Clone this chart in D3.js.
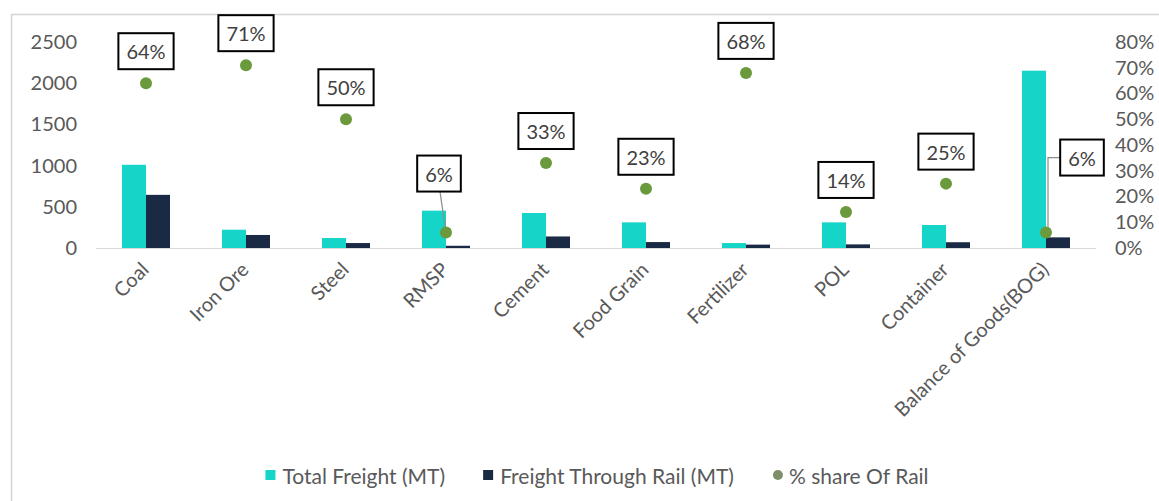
<!DOCTYPE html>
<html>
<head>
<meta charset="utf-8">
<script src="https://cdn.jsdelivr.net/npm/d3@7/dist/d3.min.js"></script>
<style>
body { margin: 0; background: #fff; }
text { font-family: Lato, "Open Sans", sans-serif; }
</style>
</head>
<body>
<div id="chart"></div>
<script>
// data
var categories = ["Coal", "Iron Ore", "Steel", "RMSP", "Cement", "Food Grain", "Fertilizer", "POL", "Container", "Balance of Goods(BOG)"]
var totalFreight = [1010, 222, 121, 453, 425, 311, 60, 311, 279, 2152]
var railFreight = [645, 158, 60, 27, 140, 72, 41, 44, 70, 129]
var railShare = [0.64, 0.71, 0.50, 0.06, 0.33, 0.23, 0.68, 0.14, 0.25, 0.06]
var leftTicks = [0, 500, 1000, 1500, 2000, 2500]
var rightTicks = [0, 0.1, 0.2, 0.3, 0.4, 0.5, 0.6, 0.7, 0.8]
var seriesNames = ["Total Freight (MT)", "Freight Through Rail (MT)", "% share Of Rail"]

var width = 1159, height = 501
var teal = "#15d5c8", navy = "#1b2a44", green = "#6a9a3c"
var textGrey = "#595959"

// labels Excel had dragged away from their points
var movedLabels = { "RMSP": [-7, -59], "Balance of Goods(BOG)": [36, -75] }

var svg = d3.select("#chart").append("svg")
	.attr("width", width).attr("height", height)

// frame
svg.append("rect")
	.attr("x", 11.5).attr("y", 14.5)
	.attr("width", width).attr("height", height)
	.attr("fill", "none").attr("stroke", "#d4d4d4").attr("stroke-width", 1.5)

var x = d3.scaleBand().domain(categories).range([96, 1096]).paddingInner(0.52).paddingOuter(0.26)
var yL = d3.scaleLinear().domain([0, 2500]).range([248, 42])
var yR = d3.scaleLinear().domain([0, 0.8]).range([248, 42])
var cx = function(c){ return x(c) + x.bandwidth() / 2 }

// left axis
var left = svg.append("g").attr("transform", "translate(77,0)")
	.call(d3.axisLeft(yL).tickValues(leftTicks).tickFormat(d3.format("d")).tickSize(0).tickPadding(0))
left.select(".domain").remove()
left.selectAll("text").attr("fill", textGrey).attr("font-size", 20)

// right axis
var right = svg.append("g").attr("transform", "translate(1115,0)")
	.call(d3.axisRight(yR).tickValues(rightTicks).tickFormat(d3.format(".0%")).tickSize(0).tickPadding(0))
right.select(".domain").remove()
right.selectAll("text").attr("fill", textGrey).attr("font-size", 20)

// baseline
svg.append("line")
	.attr("x1", 96).attr("x2", 1096)
	.attr("y1", yL(0) + 0.5).attr("y2", yL(0) + 0.5)
	.attr("stroke", "#d9d9d9").attr("stroke-width", 1)

// bars
var sub = d3.scaleBand().domain([0, 1]).range([0, x.bandwidth()])
var bars = svg.append("g")
bars.selectAll(".total").data(categories).enter().append("rect")
	.attr("x", function(d){ return x(d) + sub(0) })
	.attr("width", sub.bandwidth())
	.attr("y", function(d, i){ return yL(totalFreight[i]) })
	.attr("height", function(d, i){ return yL(0) - yL(totalFreight[i]) })
	.attr("fill", teal)
bars.selectAll(".rail").data(categories).enter().append("rect")
	.attr("x", function(d){ return x(d) + sub(1) })
	.attr("width", sub.bandwidth())
	.attr("y", function(d, i){ return yL(railFreight[i]) })
	.attr("height", function(d, i){ return yL(0) - yL(railFreight[i]) })
	.attr("fill", navy)

// category labels
svg.append("g").selectAll("text").data(categories).enter().append("text")
	.attr("transform", function(d){ return "translate(" + (cx(d) + 4) + ",271) rotate(-45)" })
	.attr("text-anchor", "end")
	.attr("fill", textGrey).attr("font-size", 20)
	.text(function(d){ return d })

// share points + labels
var pts = svg.append("g")
var lbl = svg.append("g")
categories.forEach(function(c, i){
	var px = cx(c), py = yR(railShare[i])
	var off = movedLabels[c] || [0, -32]
	var lx = px + off[0], ly = py + off[1]
	var t = lbl.append("text")
		.attr("x", lx).attr("y", ly)
		.attr("text-anchor", "middle").attr("dominant-baseline", "central")
		.attr("fill", "#404040").attr("font-size", 20)
		.text(d3.format(".0%")(railShare[i]))
	var w = t.node().getComputedTextLength() + 16, h = 36
	lbl.insert("rect", "text")
		.attr("x", lx - w / 2).attr("y", ly - h / 2)
		.attr("width", w).attr("height", h)
		.attr("fill", "#fff").attr("stroke", "#000").attr("stroke-width", 2)
	if (movedLabels[c]) {
		var path
		if (px < lx - w / 2) // label beside the point: elbow leader
			path = [[lx - w / 2, ly], [px + 2, ly], [px + 2, py - 5]]
		else
			path = [[lx + 1, ly + h / 2], [px, py]]
		pts.append("path")
			.attr("d", d3.line()(path))
			.attr("fill", "none").attr("stroke", "#8c8c8c").attr("stroke-width", 1.2)
	}
	pts.append("circle")
		.attr("cx", px).attr("cy", py).attr("r", 6)
		.attr("fill", green)
})

// legend
var legend = svg.append("g").attr("transform", "translate(0,475)")
var items = legend.selectAll("g").data(seriesNames).enter().append("g")
items.append("text")
	.attr("x", 17).attr("dominant-baseline", "central")
	.attr("fill", textGrey).attr("font-size", 21)
	.text(function(d){ return d })
var xpos = 0, gaps = []
items.each(function(d, i){
	var tw = d3.select(this).select("text").node().getComputedTextLength()
	gaps.push(xpos)
	xpos += 17 + tw + (i < 2 ? 38 : 0)
})
var start = 597 - xpos / 2
items.attr("transform", function(d, i){ return "translate(" + (start + gaps[i]) + ",0)" })
items.each(function(d, i){
	var g = d3.select(this)
	if (i < 2)
		g.append("rect").attr("x", 0).attr("y", -5).attr("width", 10).attr("height", 10)
			.attr("fill", i === 0 ? teal : navy)
	else
		g.append("circle").attr("cx", 6).attr("cy", 0).attr("r", 5).attr("fill", "#7d8f6a")
})
</script>
</body>
</html>
